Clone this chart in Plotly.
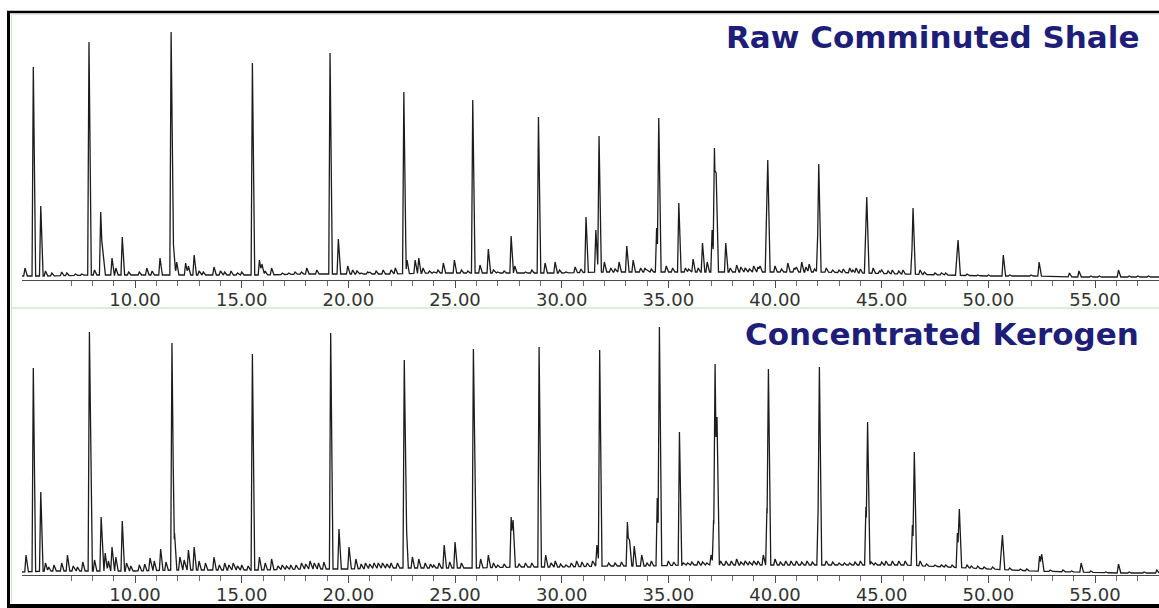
import numpy as np
import plotly.graph_objects as go

# ---------------- data ----------------
# Panel 1: Raw Comminuted Shale  (retention time in min, abundance in arbitrary units)
raw_times = [4.84, 5.23, 5.58, 5.8, 6.1, 6.56, 6.8, 7.2, 7.5, 7.84, 8.1, 8.39, 8.5, 8.92, 9.1, 9.40, 9.7,
             10.2, 10.55, 10.8, 11.17, 11.69, 11.8, 11.95, 12.37, 12.5, 12.77, 13.2, 13.7, 14.0, 14.5,
             15.0, 15.50, 15.83, 15.95, 16.4, 16.9, 17.5, 18.05, 18.52, 19.14, 19.53, 19.97, 20.2,
             20.6, 21.0, 21.3, 21.63, 22.2, 22.60, 22.75, 23.13, 23.3, 23.5, 24.0, 24.45, 24.97, 25.3,
             25.83, 26.17, 26.56, 27.0, 27.63, 27.8, 28.3, 28.91, 29.22, 29.69, 30.2, 30.63, 31.14,
             31.6, 31.75, 32.0, 32.3, 32.69, 33.05, 33.35, 33.7, 34.0, 34.45, 34.55, 34.9, 35.49, 35.8,
             36.16, 36.6, 36.82, 37.05, 37.16, 37.24, 37.69, 38.2, 38.6, 39.0, 39.3, 39.6, 39.66, 40.0,
             40.6, 41.0, 41.25, 41.6, 42.0, 42.05, 42.4, 43.0, 43.5, 43.8, 44.25, 44.3, 44.6, 45.0,
             45.5, 46.0, 46.42, 46.47, 46.8, 47.5, 48.0, 48.52, 48.58, 49.0, 50.0, 50.7, 51.5, 52.38,
             53.8, 54.25, 55.2, 56.1, 57.5]
raw_heights = [12, 213, 74, 9, 7, 8, 7, 6, 6, 238, 10, 68, 25, 22, 12, 43, 8,
               8, 12, 9, 22, 248, 35, 18, 17, 14, 25, 8, 13, 9, 9,
               8, 217, 20, 16, 12, 7, 8, 12, 10, 227, 41, 14, 10,
               7, 8, 9, 10, 12, 188, 20, 20, 22, 12, 8, 17, 20, 10,
               180, 15, 31, 8, 44, 14, 8, 163, 17, 18, 8, 13, 63,
               50, 144, 18, 12, 18, 34, 20, 12, 10, 52, 162, 14, 77, 12,
               21, 37, 18, 50, 132, 107, 37, 15, 12, 14, 14, 53, 120, 14,
               17, 13, 18, 16, 45, 116, 12, 10, 12, 12, 50, 83, 12, 10,
               10, 10, 30, 72, 10, 7, 7, 22, 40, 6, 5, 25, 4, 18,
               7, 9, 4, 10, 4]
# small baseline bumps
raw_minor_times = [13.0, 14.2, 14.8, 16.1, 17.2, 17.8, 20.4, 20.9, 22.0, 23.8, 24.2, 25.6, 26.8, 27.3,
                   28.6, 29.9, 30.9, 32.5, 33.9, 34.2, 35.2, 35.95, 36.4, 37.9, 38.4, 38.8, 39.2, 40.3,
                   40.9, 41.45, 41.85, 42.7, 43.2, 43.65, 44.0, 44.9, 45.3, 45.8, 47.0, 47.8, 49.5,
                   51.0, 52.0, 53.0, 54.8, 56.6, 57.0]
raw_minor_heights = [9, 8, 7, 9, 7, 8, 9, 8, 10, 9, 10, 9, 10, 9,
                     10, 10, 11, 11, 12, 11, 12, 11, 12, 12, 13, 11, 13, 11,
                     12, 13, 11, 10, 11, 10, 11, 9, 9, 9, 8, 7, 5,
                     5, 5, 4, 4, 4, 4]
raw_base_times = [4.7, 6, 8, 10, 12, 14, 16, 18, 20, 22, 24, 26, 28, 30, 32, 34, 36, 38, 40,
                  42, 44, 46, 48, 50, 52, 54, 56, 58]
raw_base_levels = [4, 4, 5, 5, 5, 5, 5, 6, 6, 6, 7, 7, 7, 7, 8, 8, 8, 8, 8,
                   8, 7, 6, 5, 4, 4, 3, 3, 3]

# Panel 2: Concentrated Kerogen
ker_times = [4.89, 5.23, 5.58, 5.8, 6.2, 6.56, 6.83, 7.3, 7.55, 7.86, 8.1, 8.41, 8.6, 8.92, 9.1, 9.40,
             9.6, 10.2, 10.7, 10.9, 11.2, 11.73, 11.85, 12.1, 12.5, 12.77, 13.0, 13.7, 14.2, 14.6,
             15.0, 15.50, 15.83, 16.1, 16.4, 16.9, 17.3, 17.8, 18.2, 18.6, 19.17, 19.56, 20.03,
             20.35, 20.8, 21.2, 21.6, 22.0, 22.62, 22.7, 23.0, 23.3, 24.0, 24.49, 25.0, 25.86, 26.2,
             26.56, 27.0, 27.63, 27.72, 28.3, 28.94, 29.25, 29.7, 30.2, 30.7, 31.2, 31.65, 31.78,
             32.2, 33.08, 33.18, 33.4, 33.75, 34.2, 34.48, 34.58, 35.0, 35.52, 35.9, 36.4, 36.8,
             37.0, 37.12, 37.19, 37.28, 37.7, 38.2, 38.6, 39.0, 39.45, 39.62, 39.69, 40.0, 40.5,
             41.0, 41.5, 42.02, 42.08, 42.4, 43.0, 43.5, 44.0, 44.26, 44.34, 44.7, 45.2, 45.8,
             46.44, 46.53, 46.8, 47.5, 48.0, 48.55, 48.64, 49.0, 49.5, 50.6, 50.66, 51.5, 52.4,
             52.5, 53.5, 54.35, 56.1, 57.9]
ker_heights = [20, 207, 83, 12, 10, 12, 20, 8, 13, 243, 15, 58, 22, 28, 18, 54,
               12, 10, 17, 14, 26, 232, 42, 18, 25, 28, 14, 18, 12, 12,
               10, 221, 18, 12, 16, 10, 10, 12, 14, 12, 242, 46, 28,
               16, 12, 12, 12, 12, 215, 58, 18, 16, 10, 30, 33, 226, 16,
               20, 10, 58, 55, 12, 228, 20, 14, 10, 14, 12, 30, 225,
               12, 53, 35, 29, 20, 14, 77, 248, 14, 143, 12, 14, 12,
               20, 55, 211, 158, 14, 16, 14, 14, 20, 67, 206, 16, 14,
               14, 14, 65, 208, 14, 12, 12, 14, 68, 153, 12, 14, 14,
               50, 123, 14, 10, 10, 42, 66, 10, 9, 22, 40, 6, 19,
               21, 5, 12, 11, 5]
ker_minor_times = [5.95, 7.1, 8.75, 9.8, 10.45, 11.45, 12.3, 13.3, 13.95, 14.4, 14.8, 15.3, 16.7, 17.1,
                   17.55, 18.0, 18.4, 18.85, 20.6, 21.0, 21.4, 21.8, 22.3, 23.6, 23.85, 24.25, 24.75,
                   25.3, 26.8, 27.3, 28.0, 28.6, 29.5, 29.95, 30.45, 30.95, 31.45, 32.5, 32.8, 34.0,
                   35.25, 35.7, 36.1, 36.6, 37.45, 37.95, 38.4, 38.8, 39.2, 40.25, 40.75, 41.25, 41.75,
                   42.7, 43.25, 43.75, 44.5, 45.0, 45.5, 46.1, 47.1, 47.8, 48.3, 49.2, 49.8, 50.2,
                   51.0, 51.8, 52.9, 53.9, 54.8, 55.5, 56.6, 57.3]
ker_minor_heights = [8, 9, 14, 9, 11, 13, 15, 12, 10, 10, 9, 9, 9, 9,
                     10, 11, 12, 13, 11, 11, 12, 11, 12, 12, 11, 12, 13,
                     12, 12, 11, 11, 12, 12, 11, 12, 13, 14, 12, 13, 12,
                     13, 12, 13, 13, 14, 14, 13, 13, 14, 13, 14, 13, 13,
                     13, 12, 13, 13, 13, 14, 14, 11, 10, 10, 9, 8, 8,
                     7, 6, 5, 4, 4, 3, 3, 3]
ker_base_times = [4.7, 6, 8, 10, 12, 14, 16, 18, 20, 22, 24, 26, 28, 30, 32, 34, 36, 38, 40,
                  42, 44, 46, 48, 50, 52, 54, 56, 58]
ker_base_levels = [3, 4, 4, 4, 5, 5, 5, 6, 6, 7, 7, 7, 8, 8, 9, 9, 10, 10, 10,
                   10, 10, 10, 8, 6, 4, 3, 2, 2]

tick_values = [10, 15, 20, 25, 30, 35, 40, 45, 50, 55]
tick_labels = ["10.00", "15.00", "20.00", "25.00", "30.00", "35.00", "40.00", "45.00", "50.00", "55.00"]
minor_values = [7, 8, 9, 11, 12, 13, 14, 16, 17, 18, 19, 21, 22, 23, 24, 26, 27, 28, 29, 31, 32, 33, 34,
                36, 37, 38, 39, 41, 42, 43, 44, 46, 47, 48, 49, 51, 52, 53, 54, 56, 57]
panel_titles = ["Raw Comminuted Shale", "Concentrated Kerogen"]


def chromatogram(times, heights, btimes, blevels, left=0.06, right=0.11):
    """Turn the peak table into the vertices of a line (each peak drawn as a narrow spike)."""
    times = np.asarray(times, float)
    heights = np.asarray(heights, float)
    xs = np.unique(np.concatenate([btimes, times - left, times, times + right]))
    ys = np.interp(xs, btimes, blevels)
    for t, h in zip(times, heights):
        b = float(np.interp(t, btimes, blevels))
        rise = b + (h - b) * (1 - (t - xs) / left)
        fall = b + (h - b) * (1 - (xs - t) / right)
        spike = np.where(xs <= t, rise, fall)
        spike = np.where((xs >= t - left - 1e-9) & (xs <= t + right + 1e-9), spike, -np.inf)
        ys = np.maximum(ys, spike)
    return xs, ys


W, H = 1159, 608
px = lambda v: v / W
py = lambda v: 1 - v / H

x_range = [4.70, 58.0]
fig = go.Figure()

x1, y1 = chromatogram(raw_times + raw_minor_times, raw_heights + raw_minor_heights,
                      raw_base_times, raw_base_levels)
x2, y2 = chromatogram(ker_times + ker_minor_times, ker_heights + ker_minor_heights,
                      ker_base_times, ker_base_levels)

line_style = dict(color="#1c1c1c", width=1.3)
fig.add_trace(go.Scatter(x=x1, y=y1, mode="lines", line=line_style, xaxis="x", yaxis="y",
                         hoverinfo="skip", showlegend=False))
fig.add_trace(go.Scatter(x=x2, y=y2, mode="lines", line=line_style, xaxis="x2", yaxis="y2",
                         hoverinfo="skip", showlegend=False))

xaxis_common = dict(
    range=x_range, domain=[px(22), 1.0],
    showline=True, linecolor="#4a4a4a", linewidth=1,
    showgrid=False, zeroline=False,
    tickmode="array", tickvals=tick_values, ticktext=tick_labels,
    ticks="outside", ticklen=7, tickwidth=1, tickcolor="#4a4a4a",
    minor=dict(tickmode="array", tickvals=minor_values, ticks="outside", ticklen=5,
               tickwidth=1, tickcolor="#6a6a6a", showgrid=False),
    tickfont=dict(family="DejaVu Sans", size=18, color="#333333"),
    ticklabelstandoff=-4,
    fixedrange=True,
)
yaxis_common = dict(visible=False, showgrid=False, zeroline=False, fixedrange=True)

fig.update_layout(
    width=W, height=H, autosize=False,
    margin=dict(l=0, r=0, t=0, b=0, pad=0),
    paper_bgcolor="white", plot_bgcolor="white",
    xaxis=dict(**xaxis_common, anchor="y"),
    yaxis=dict(**yaxis_common, range=[0, 268], domain=[py(280), py(12)]),
    xaxis2=dict(**xaxis_common, anchor="y2"),
    yaxis2=dict(**yaxis_common, range=[0, 267], domain=[py(575), py(308)]),
)

title_font = dict(family="DejaVu Sans", size=31, color="#1e1e78")
fig.add_annotation(text="<b>%s</b>" % panel_titles[0], xref="paper", yref="paper",
                   x=px(1141), y=py(37), xanchor="right", yanchor="middle",
                   showarrow=False, font=title_font)
fig.add_annotation(text="<b>%s</b>" % panel_titles[1], xref="paper", yref="paper",
                   x=px(1141), y=py(334), xanchor="right", yanchor="middle",
                   showarrow=False, font=title_font)

# frame and separator
shapes = [
    dict(type="line", xref="paper", yref="paper", x0=px(11), x1=1.0, y0=py(308), y1=py(308),
         line=dict(color="#b5dfb0", width=1)),
    dict(type="line", xref="paper", yref="paper", x0=px(11.5), x1=px(11.5), y0=py(14), y1=py(602),
         line=dict(color="#c8e8c4", width=1)),
    dict(type="line", xref="paper", yref="paper", x0=px(11), x1=1.0, y0=py(14.5), y1=py(14.5),
         line=dict(color="#dff0dc", width=1)),
    dict(type="line", xref="paper", yref="paper", x0=px(7), x1=1.0, y0=py(12), y1=py(12),
         line=dict(color="black", width=2.5)),
    dict(type="line", xref="paper", yref="paper", x0=px(8.5), x1=px(8.5), y0=py(11), y1=py(606),
         line=dict(color="black", width=3)),
    dict(type="line", xref="paper", yref="paper", x0=px(7), x1=1.0, y0=py(606), y1=py(606),
         line=dict(color="black", width=4)),
]
fig.update_layout(shapes=shapes)

fig.write_html("out.html", config={"displayModeBar": False},
               post_script="document.body.style.margin='0';document.body.style.overflow='hidden';")
